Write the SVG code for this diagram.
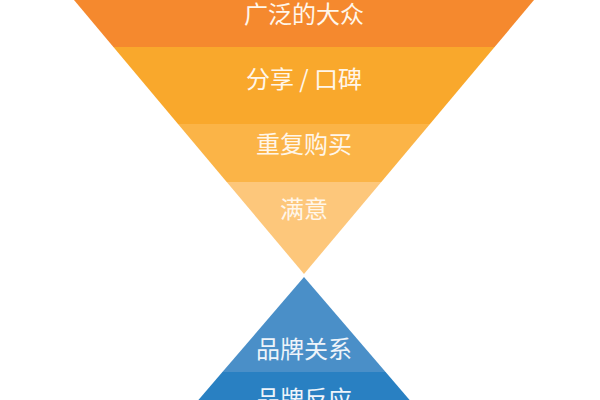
<svg xmlns="http://www.w3.org/2000/svg" width="600" height="400" viewBox="0 0 600 400">
<style>
.lbl{font-family:"Noto Sans CJK SC","Noto Sans",sans-serif;font-size:24px;text-anchor:middle;fill:#FFF6EA}
.lblb{font-family:"Noto Sans CJK SC","Noto Sans",sans-serif;font-size:24px;text-anchor:middle;fill:#EEF4FA}
</style>
<rect width="600" height="400" fill="#FFFFFF"/>
<g id="band-public">
<polygon points="74,0 534,0 494.6,47 113.4,47" fill="#F5892E"/>
<text class="lbl" x="304" y="23">广泛的大众</text>
</g>
<g id="band-share">
<polygon points="113.4,47 494.6,47 430,124 178,124" fill="#F9A82C"/>
<text class="lbl" x="304" y="88">分享 / 口碑</text>
</g>
<g id="band-repeat">
<polygon points="178,124 430,124 381.3,182 226.7,182" fill="#FBB447"/>
<text class="lbl" x="304" y="153">重复购买</text>
</g>
<g id="band-satisfied">
<polygon points="226.7,182 381.3,182 304,274" fill="#FDC77B"/>
<text class="lbl" x="304" y="218">满意</text>
</g>
<g id="band-relation">
<polygon points="304,277 222.4,372 385.6,372" fill="#4A8FC8"/>
<text class="lblb" x="304" y="358">品牌关系</text>
</g>
<g id="band-response">
<polygon points="222.4,372 385.6,372 409.6,400 198.4,400" fill="#2980C2"/>
<text class="lblb" x="304" y="408">品牌反应</text>
</g>
</svg>
